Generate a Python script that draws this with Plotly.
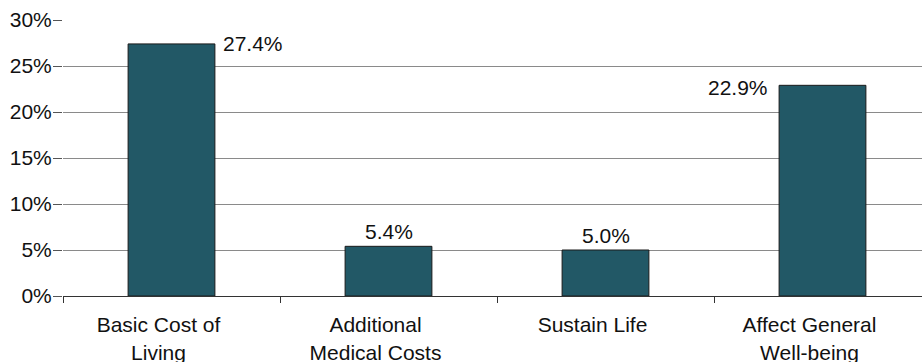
import plotly.graph_objects as go

# Share of respondents by reason category
categories = ["Basic Cost of<br>Living", "Additional<br>Medical Costs", "Sustain Life", "Affect General<br>Well-being"]
shares = [0.274, 0.054, 0.050, 0.229]
value_labels = ["27.4%", "5.4%", "5.0%", "22.9%"]
y_ticks = [0, 0.05, 0.10, 0.15, 0.20, 0.25, 0.30]

BAR_COLOR = "#225866"
FONT = "Liberation Sans, Arial, sans-serif"
FONT_SIZE = 21

# where each value label sits relative to the top of its bar
label_place = [
    dict(xanchor="left", yanchor="middle", xshift=49, yshift=0),
    dict(xanchor="center", yanchor="bottom", xshift=0, yshift=1),
    dict(xanchor="center", yanchor="bottom", xshift=0, yshift=1),
    dict(xanchor="right", yanchor="middle", xshift=-53, yshift=-2),
]

fig = go.Figure()
fig.add_trace(go.Bar(
    x=categories,
    y=shares,
    width=0.4,
    marker=dict(color=BAR_COLOR, line=dict(color="#1a1a1a", width=1)),
    hoverinfo="skip",
))

for i, (c, v, lab) in enumerate(zip(categories, shares, value_labels)):
    fig.add_annotation(
        x=c, y=v, xref="x", yref="y", text=lab, showarrow=False,
        font=dict(family=FONT, size=FONT_SIZE, color="#111111"),
        **label_place[i],
    )

fig.update_layout(
    width=922, height=362,
    margin=dict(l=63, r=0, t=20, b=66),
    paper_bgcolor="white", plot_bgcolor="white",
    showlegend=False,
    font=dict(family=FONT, size=FONT_SIZE, color="#111111"),
)
fig.update_xaxes(
    type="category",
    automargin=False,
    range=[-0.5, -0.5 + 859 / 217],
    showgrid=False,
    zeroline=False,
    showline=True, linecolor="#333333", linewidth=1,
    ticks="outside", ticklen=6, tickcolor="#333333",
    tickson="boundaries",
    ticklabelshift=-13,
    ticklabelstandoff=10,
    tickfont=dict(family=FONT, size=FONT_SIZE, color="#111111"),
)
fig.update_yaxes(
    automargin=False,
    range=[0, 0.30],
    tickvals=y_ticks,
    tickformat=".0%",
    showgrid=True, gridcolor="#8a8a8a", gridwidth=1,
    zeroline=False,
    showline=False,
    ticks="outside", ticklen=9, tickcolor="#555555",
    ticklabelstandoff=-3,
    tickfont=dict(family=FONT, size=FONT_SIZE, color="#111111"),
)

fig.write_html("out.html")
